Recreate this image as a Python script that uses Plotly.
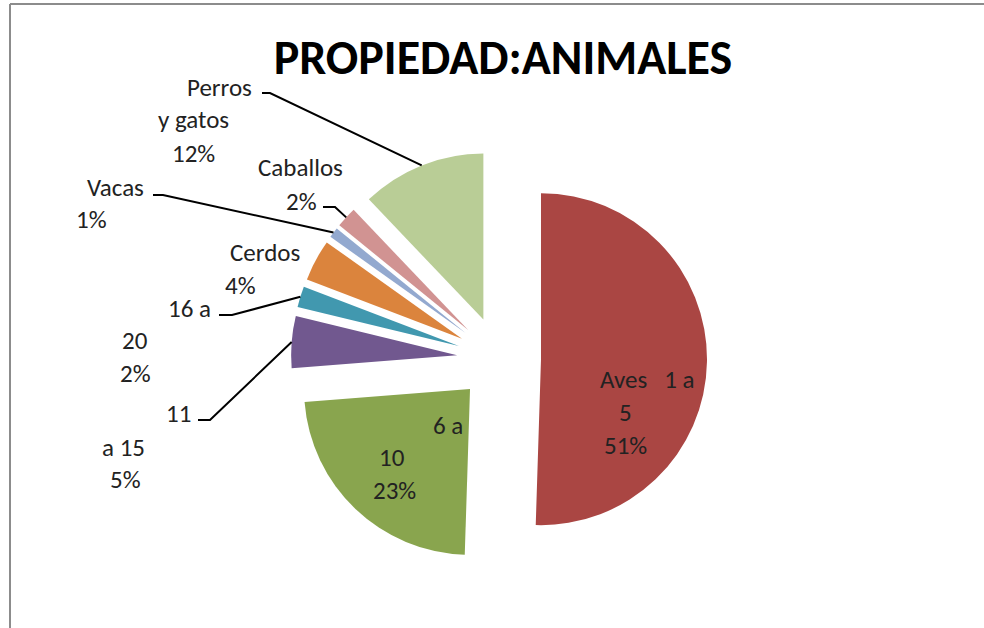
import numpy as np
import plotly.graph_objects as go

W, H = 984, 628

# data (counts; labels show the rounded shares)
categories = ["Aves 1 a 5", "6 a 10", "11 a 15", "16 a 20",
              "Cerdos", "Vacas", "Caballos", "Perros y gatos"]
values = [50, 23, 5, 2, 4, 1, 2, 12]
label_lines = [["Aves   1 a", "5"], ["6 a", "10"], ["11", "a 15"], ["16 a", "20"],
               ["Cerdos"], ["Vacas"], ["Caballos"], ["Perros", "y gatos"]]
colors = ["#AA4643", "#89A54E", "#71588F", "#4198AF",
          "#DB843D", "#93A9CF", "#D19392", "#B9CD96"]

# layout (pixels)
CX, CY, R, PULL_PX = 499, 358.5, 166, 42
FONT = "Carlito, Lato, sans-serif"

# centres of each label line, in pixels, one list per category
label_pos = [
    [(647, 378), (625, 411), (625, 444)],
    [(448, 424), (392, 456), (394, 489)],
    [(178, 412), (124, 446), (125, 478)],
    [(189, 307), (135, 339), (135, 372)],
    [(265, 252), (240, 284)],
    [(115, 186), (91, 218)],
    [(300, 166), (301, 200)],
    [(219, 87), (193, 118), (193, 152)],
]
# leader lines: text-side start and elbow, pixels (None = no leader)
leaders = [None, None, [(198, 420), (210, 420)], [(219, 315), (232, 315)],
           None, [(153, 195), (163, 195)], [(323, 207), (335, 207)],
           [(262, 93), (270, 93)]]


def paper(x, y):
    return x / W, 1 - y / H


pull = PULL_PX / R
half = R * (1 + pull)
dom_x = [(CX - half) / W, (CX + half) / W]
dom_y = [1 - (CY + half) / H, 1 - (CY - half) / H]

fig = go.Figure()
fig.add_pie(
    labels=categories,
    values=values,
    sort=False,
    direction="clockwise",
    rotation=0,
    pull=[pull] * len(values),
    marker=dict(colors=colors, line=dict(width=0)),
    textinfo="none",
    hoverinfo="label+percent",
    showlegend=False,
    domain=dict(x=dom_x, y=dom_y),
)

total = sum(values)
cum = np.cumsum(values)
annotations = []
shapes = []
for i, v in enumerate(values):
    pct = round(100 * v / total)
    lines = label_lines[i] + [f"{pct}%"]
    for txt, (px, py) in zip(lines, label_pos[i]):
        ax, ay = paper(px, py + 1)
        annotations.append(dict(
            text=txt, x=ax, y=ay, xref="paper", yref="paper",
            xanchor="center", yanchor="middle", showarrow=False,
            font=dict(family=FONT, size=25, color="#222222")))
    if leaders[i] is not None:
        theta = np.radians(360 * (cum[i] - v / 2) / total)
        ex = CX + (R + PULL_PX) * np.sin(theta)
        ey = CY - (R + PULL_PX) * np.cos(theta)
        pts = [paper(*p) for p in leaders[i]] + [paper(ex, ey)]
        path = "M " + " L ".join(f"{x:.5f},{y:.5f}" for x, y in pts)
        shapes.append(dict(type="path", path=path, xref="paper", yref="paper",
                           line=dict(color="black", width=2)))

# chart area border (left and top edges visible)
bx, by = paper(10, 4)
shapes.append(dict(type="line", xref="paper", yref="paper",
                   x0=bx, y0=0, x1=bx, y1=by, line=dict(color="#8c8c8c", width=2)))
shapes.append(dict(type="line", xref="paper", yref="paper",
                   x0=bx, y0=by, x1=1, y1=by, line=dict(color="#8c8c8c", width=2)))

fig.update_layout(
    width=W, height=H,
    margin=dict(l=0, r=0, t=0, b=0),
    paper_bgcolor="white",
    plot_bgcolor="white",
    title=dict(text="<b>PROPIEDAD:ANIMALES</b>", x=503 / W, y=1 - 57 / H,
               xanchor="center", yanchor="middle",
               font=dict(family=FONT, size=48, color="black")),
    annotations=annotations,
    shapes=shapes,
)

# drop the default page margin so the figure sits at the window corner
fig.write_html("out.html", config={"displayModeBar": False},
               post_script="document.body.style.margin='0';")
